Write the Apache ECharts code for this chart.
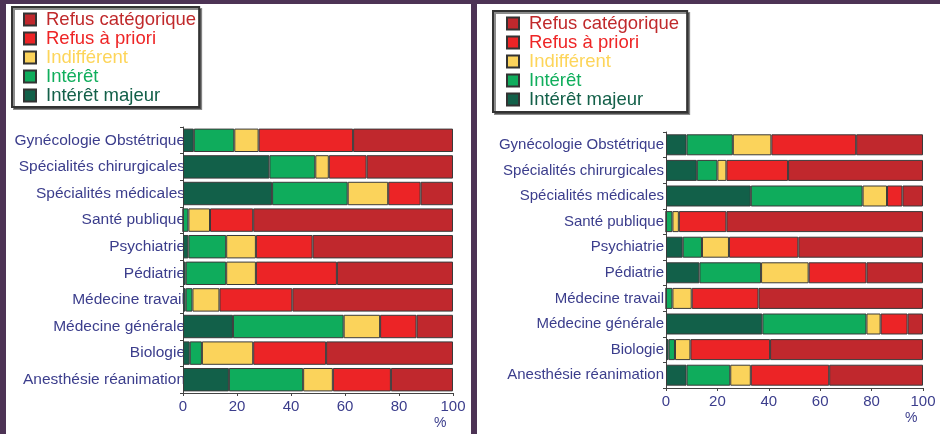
<!DOCTYPE html>
<html>
<head>
<meta charset="utf-8">
<title>Refus / Intérêt par spécialité</title>
<script src="https://cdn.jsdelivr.net/npm/echarts@6/dist/echarts.min.js"></script>
<style>
    html, body { margin: 0; padding: 0; background: #4d3355; }
    #main { width: 940px; height: 434px; }
</style>
</head>
<body>
<div id="main"></div>
<script>
var categories = ['Gynécologie Obstétrique', 'Spécialités chirurgicales', 'Spécialités médicales', 'Santé publique',
    'Psychiatrie', 'Pédiatrie', 'Médecine travail', 'Médecine générale', 'Biologie', 'Anesthésie réanimation'];
var xTicks = [0, 20, 40, 60, 80, 100];

var seriesNames = ['Intérêt majeur', 'Intérêt', 'Indifférent', 'Refus à priori', 'Refus catégorique'];
var seriesColors = ['#126049', '#0fac5c', '#fbd35b', '#ec2426', '#c0282d'];
var legendTextColors = ['#136049', '#10ae5c', '#fdd55a', '#ee2526', '#c0292b'];

// panneau gauche
var leftMajeur = [4, 32, 33, 0, 2, 1, 1, 18.5, 2.5, 17];
var leftInteret = [15, 17, 28, 2, 14, 15, 2.5, 41, 4.5, 27.5];
var leftIndiff = [9, 5, 15, 8, 11, 11, 10, 13.5, 19, 11];
var leftApriori = [35, 14, 12, 16, 21, 30, 27, 13.5, 27, 21.5];
var leftCateg = [37, 32, 12, 74, 52, 43, 59.5, 13.5, 47, 23];

// panneau droit
var rightMajeur = [8, 12, 33, 0, 6.5, 13, 0, 37.5, 1, 8];
var rightInteret = [18, 8, 43.5, 2.5, 7.5, 24, 2.5, 40.5, 2.5, 17];
var rightIndiff = [15, 3.5, 9.5, 2.5, 10.5, 18.5, 7.5, 5.5, 6, 8];
var rightApriori = [33, 24, 6, 18.5, 27, 22.5, 26, 10.5, 31, 30.5];
var rightCateg = [26, 52.5, 8, 76.5, 48.5, 22, 64, 6, 59.5, 36.5];

var navy = '#3b3d8c';
var font = '"Liberation Sans", Arial, sans-serif';

function makeSeries(idx, stack, values, gap) {
    var out = [];
    for (var i = 0; i < seriesNames.length; i++) {
        out.push({
            type: 'bar',
            name: seriesNames[i],
            stack: stack,
            xAxisIndex: idx,
            yAxisIndex: idx,
            barCategoryGap: gap,
            data: values[i],
            itemStyle: { color: seriesColors[i], borderColor: '#3a3a3a', borderWidth: 1 },
            emphasis: { disabled: true }
        });
    }
    return out;
}

function makeLegend(left, top, lineH, padding) {
    var data = [];
    // ordre de la legende : du refus vers l'interet
    for (var i = seriesNames.length - 1; i >= 0; i--) {
        data.push({ name: seriesNames[i], textStyle: { color: legendTextColors[i] } });
    }
    return {
        orient: 'vertical',
        left: left,
        top: top,
        data: data,
        icon: 'rect',
        itemWidth: 12,
        itemHeight: 12,
        itemGap: 0,
        padding: padding,
        backgroundColor: '#fff',
        borderColor: '#333',
        borderWidth: 2,
        shadowColor: 'rgba(0,0,0,0.45)',
        shadowOffsetX: 2,
        shadowOffsetY: 2,
        shadowBlur: 0,
        selectedMode: false,
        itemStyle: { borderColor: '#333', borderWidth: 2 },
        textStyle: { fontFamily: font, fontSize: 18.5, lineHeight: lineH, padding: [0, 0, 0, 5] }
    };
}

function makeXAxis(idx) {
    return {
        type: 'value',
        gridIndex: idx,
        min: 0,
        max: 100,
        interval: 20,
        splitLine: { show: false },
        axisLine: { show: true, lineStyle: { color: '#444' } },
        axisTick: { show: true, length: 3, lineStyle: { color: '#444' } },
        axisLabel: {
            color: navy, fontFamily: font, fontSize: 15, margin: 6,
            formatter: function (v) { return xTicks.indexOf(v) >= 0 ? String(v) : ''; }
        }
    };
}

function makeYAxis(idx, fontSize, margin) {
    return {
        type: 'category',
        gridIndex: idx,
        inverse: true,
        data: categories,
        axisLine: { show: true, lineStyle: { color: '#444' } },
        axisTick: { show: true, length: 3, lineStyle: { color: '#444' } },
        axisLabel: { color: navy, fontFamily: font, fontSize: fontSize, margin: margin }
    };
}

var myChart = echarts.init(document.getElementById('main'));
var option = {
    backgroundColor: '#4d3355',
    animation: false,
    graphic: [
        { type: 'rect', z: -10, shape: { x: 6, y: 4, width: 465, height: 430 }, style: { fill: '#fff' } },
        { type: 'rect', z: -10, shape: { x: 477, y: 4, width: 463, height: 430 }, style: { fill: '#fff' } },
        { type: 'text', left: 434, top: 416, style: { text: '%', fill: navy, font: '14px ' + font } },
        { type: 'text', left: 905, top: 411, style: { text: '%', fill: navy, font: '14px ' + font } }
    ],
    legend: [
        makeLegend(12, 7, 19, [3, 3, 2, 11]),
        makeLegend(493, 11, 18, [3, 8, 3, 13])
    ],
    grid: [
        { left: 183, right: 487, top: 127, bottom: 41 },
        { left: 666, right: 17, top: 132, bottom: 46 }
    ],
    xAxis: [makeXAxis(0), makeXAxis(1)],
    yAxis: [makeYAxis(0, 15.5, -2), makeYAxis(1, 15, 2)],
    series: makeSeries(0, 'gauche', [leftMajeur, leftInteret, leftIndiff, leftApriori, leftCateg], '12%')
        .concat(makeSeries(1, 'droite', [rightMajeur, rightInteret, rightIndiff, rightApriori, rightCateg], '18%'))
};
myChart.setOption(option);
window.onresize = myChart.resize;
</script>
</body>
</html>
